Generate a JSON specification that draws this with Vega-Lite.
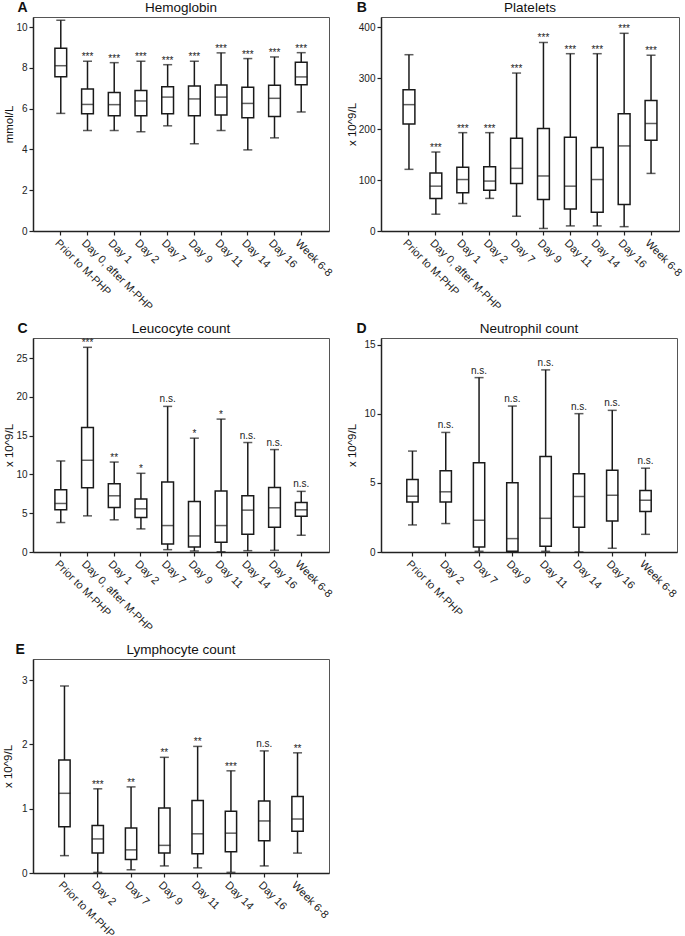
{
  "$schema": "https://vega.github.io/schema/vega-lite/v6.json",
  "padding": {"left": 1, "top": 0, "right": 0, "bottom": 0},
  "background": "white",
  "datasets": {
    "hb": [
      {"day": "Prior to M-PHP", "min": 5.77, "q1": 7.57, "med": 8.11, "q3": 8.97, "max": 10.34, "sig": ""},
      {"day": "Day 0, after M-PHP", "min": 4.93, "q1": 5.75, "med": 6.21, "q3": 6.97, "max": 8.33, "sig": "***"},
      {"day": "Day 1", "min": 4.93, "q1": 5.66, "med": 6.2, "q3": 6.79, "max": 8.26, "sig": "***"},
      {"day": "Day 2", "min": 4.87, "q1": 5.66, "med": 6.38, "q3": 6.89, "max": 8.33, "sig": "***"},
      {"day": "Day 7", "min": 5.16, "q1": 5.75, "med": 6.57, "q3": 7.08, "max": 8.16, "sig": "***"},
      {"day": "Day 9", "min": 4.28, "q1": 5.66, "med": 6.48, "q3": 7.11, "max": 8.33, "sig": "***"},
      {"day": "Day 11", "min": 4.93, "q1": 5.69, "med": 6.57, "q3": 7.16, "max": 8.74, "sig": "***"},
      {"day": "Day 14", "min": 3.98, "q1": 5.56, "med": 6.26, "q3": 7.05, "max": 8.46, "sig": "***"},
      {"day": "Day 16", "min": 4.57, "q1": 5.62, "med": 6.51, "q3": 7.15, "max": 8.54, "sig": "***"},
      {"day": "Week 6-8", "min": 5.84, "q1": 7.18, "med": 7.56, "q3": 8.28, "max": 8.75, "sig": "***"}
    ],
    "plt": [
      {"day": "Prior to M-PHP", "min": 121, "q1": 210, "med": 248, "q3": 277, "max": 346, "sig": ""},
      {"day": "Day 0, after M-PHP", "min": 33, "q1": 64, "med": 88, "q3": 114, "max": 155, "sig": "***"},
      {"day": "Day 1", "min": 54, "q1": 75, "med": 101, "q3": 125, "max": 193, "sig": "***"},
      {"day": "Day 2", "min": 64, "q1": 80, "med": 98, "q3": 126, "max": 193, "sig": "***"},
      {"day": "Day 7", "min": 29, "q1": 93, "med": 123, "q3": 182, "max": 310, "sig": "***"},
      {"day": "Day 9", "min": 5, "q1": 62, "med": 108, "q3": 201, "max": 370, "sig": "***"},
      {"day": "Day 11", "min": 10, "q1": 43, "med": 88, "q3": 184, "max": 348, "sig": "***"},
      {"day": "Day 14", "min": 10, "q1": 37, "med": 101, "q3": 164, "max": 348, "sig": "***"},
      {"day": "Day 16", "min": 8.5, "q1": 52, "med": 167, "q3": 230, "max": 388, "sig": "***"},
      {"day": "Week 6-8", "min": 113, "q1": 178, "med": 211, "q3": 256, "max": 345, "sig": "***"}
    ],
    "wbc": [
      {"day": "Prior to M-PHP", "min": 3.8, "q1": 5.44, "med": 6.26, "q3": 8.03, "max": 11.74, "sig": ""},
      {"day": "Day 0, after M-PHP", "min": 4.66, "q1": 8.29, "med": 11.83, "q3": 16.06, "max": 26.4, "sig": "***"},
      {"day": "Day 1", "min": 4.15, "q1": 5.74, "med": 7.25, "q3": 8.8, "max": 11.6, "sig": "**"},
      {"day": "Day 2", "min": 2.98, "q1": 4.45, "med": 5.57, "q3": 6.82, "max": 10.15, "sig": "*"},
      {"day": "Day 7", "min": 0.3, "q1": 1.04, "med": 3.41, "q3": 9.02, "max": 18.78, "sig": "n.s."},
      {"day": "Day 9", "min": 0.13, "q1": 0.65, "med": 2.07, "q3": 6.52, "max": 14.68, "sig": "*"},
      {"day": "Day 11", "min": 0.03, "q1": 1.25, "med": 3.41, "q3": 7.86, "max": 17.14, "sig": "*"},
      {"day": "Day 14", "min": 0.17, "q1": 2.29, "med": 5.4, "q3": 7.25, "max": 14.12, "sig": "n.s."},
      {"day": "Day 16", "min": 0.22, "q1": 3.2, "med": 5.7, "q3": 8.33, "max": 13.21, "sig": "n.s."},
      {"day": "Week 6-8", "min": 2.16, "q1": 4.62, "med": 5.44, "q3": 6.39, "max": 7.82, "sig": "n.s."}
    ],
    "neu": [
      {"day": "Prior to M-PHP", "min": 1.96, "q1": 3.63, "med": 4.04, "q3": 5.25, "max": 7.31, "sig": ""},
      {"day": "Day 2", "min": 2.06, "q1": 3.63, "med": 4.36, "q3": 5.88, "max": 8.66, "sig": "n.s."},
      {"day": "Day 7", "min": 0.05, "q1": 0.36, "med": 2.3, "q3": 6.46, "max": 12.63, "sig": "n.s."},
      {"day": "Day 9", "min": 0.0, "q1": 0.05, "med": 0.97, "q3": 5.01, "max": 10.57, "sig": "n.s."},
      {"day": "Day 11", "min": 0.05, "q1": 0.41, "med": 2.44, "q3": 6.92, "max": 13.19, "sig": "n.s."},
      {"day": "Day 14", "min": 0.0, "q1": 1.79, "med": 4.02, "q3": 5.66, "max": 10.02, "sig": "n.s."},
      {"day": "Day 16", "min": 0.27, "q1": 2.25, "med": 4.11, "q3": 5.93, "max": 10.26, "sig": "n.s."},
      {"day": "Week 6-8", "min": 1.28, "q1": 2.93, "med": 3.75, "q3": 4.45, "max": 6.07, "sig": "n.s."}
    ],
    "lym": [
      {"day": "Prior to M-PHP", "min": 0.27, "q1": 0.72, "med": 1.24, "q3": 1.76, "max": 2.91, "sig": ""},
      {"day": "Day 2", "min": 0.01, "q1": 0.31, "med": 0.53, "q3": 0.74, "max": 1.31, "sig": "***"},
      {"day": "Day 7", "min": 0.05, "q1": 0.21, "med": 0.36, "q3": 0.7, "max": 1.34, "sig": "**"},
      {"day": "Day 9", "min": 0.11, "q1": 0.31, "med": 0.43, "q3": 1.01, "max": 1.8, "sig": "**"},
      {"day": "Day 11", "min": 0.08, "q1": 0.3, "med": 0.61, "q3": 1.13, "max": 1.97, "sig": "**"},
      {"day": "Day 14", "min": 0.01, "q1": 0.33, "med": 0.62, "q3": 0.96, "max": 1.59, "sig": "***"},
      {"day": "Day 16", "min": 0.11, "q1": 0.5, "med": 0.81, "q3": 1.12, "max": 1.9, "sig": "n.s."},
      {"day": "Week 6-8", "min": 0.31, "q1": 0.65, "med": 0.84, "q3": 1.19, "max": 1.87, "sig": "**"}
    ]
  },
  "vconcat": [
    {
      "hconcat": [
        {
          "title": {"text": "A", "anchor": "start", "frame": "bounds", "fontWeight": "bold", "fontSize": 14, "offset": -15, "dx": 14},
          "vconcat": [
            {
              "width": 296, "height": 214,
              "title": {"text": "Hemoglobin"},
              "data": {"name": "hb"},
              "encoding": {"x": {"field": "day", "type": "nominal", "sort": null, "title": null, "scale": {"paddingInner": 0.56, "paddingOuter": 0.82}}},
              "layer": [
                {"mark": {"type": "rule", "color": "#1a1a1a", "strokeWidth": 1.5}, "encoding": {"y": {"field": "min", "type": "quantitative", "title": "mmol/L", "scale": {"domain": [0, 10.5], "nice": false, "zero": true}, "axis": {"values": [0, 2, 4, 6, 8, 10], "format": "d"}}, "y2": {"field": "max"}}},
                {"mark": {"type": "tick", "color": "#1a1a1a", "thickness": 1.5, "size": 9}, "encoding": {"y": {"field": "min", "type": "quantitative", "title": "mmol/L"}}},
                {"mark": {"type": "tick", "color": "#1a1a1a", "thickness": 1.5, "size": 9}, "encoding": {"y": {"field": "max", "type": "quantitative", "title": "mmol/L"}}},
                {"mark": {"type": "bar", "fill": "white", "stroke": "#1a1a1a", "strokeWidth": 1.5}, "encoding": {"y": {"field": "q1", "type": "quantitative", "title": "mmol/L"}, "y2": {"field": "q3"}}},
                {"mark": {"type": "tick", "color": "#1a1a1a", "thickness": 1.5, "size": 12}, "encoding": {"y": {"field": "med", "type": "quantitative", "title": "mmol/L"}}},
                {"transform": [{"filter": "datum.sig != '' && datum.sig != 'n.s.'"}], "mark": {"type": "text", "baseline": "alphabetic", "dy": -1, "fontSize": 10, "color": "#222"}, "encoding": {"y": {"field": "max", "type": "quantitative", "title": "mmol/L"}, "text": {"field": "sig"}}},
                {"transform": [{"filter": "datum.sig == 'n.s.'"}], "mark": {"type": "text", "baseline": "alphabetic", "dy": -4, "fontSize": 10, "color": "#222"}, "encoding": {"y": {"field": "max", "type": "quantitative", "title": "mmol/L"}, "text": {"field": "sig"}}}
              ]
            }
          ]
        },
        {
          "title": {"text": "B", "anchor": "start", "frame": "bounds", "fontWeight": "bold", "fontSize": 14, "offset": -15, "dx": 11},
          "vconcat": [
            {
              "width": 298, "height": 214,
              "title": {"text": "Platelets"},
              "data": {"name": "plt"},
              "encoding": {"x": {"field": "day", "type": "nominal", "sort": null, "title": null, "scale": {"paddingInner": 0.56, "paddingOuter": 0.82}}},
              "layer": [
                {"mark": {"type": "rule", "color": "#1a1a1a", "strokeWidth": 1.5}, "encoding": {"y": {"field": "min", "type": "quantitative", "title": "x 10^9/L", "scale": {"domain": [0, 420], "nice": false, "zero": true}, "axis": {"values": [0, 100, 200, 300, 400], "format": "d"}}, "y2": {"field": "max"}}},
                {"mark": {"type": "tick", "color": "#1a1a1a", "thickness": 1.5, "size": 9}, "encoding": {"y": {"field": "min", "type": "quantitative", "title": "x 10^9/L"}}},
                {"mark": {"type": "tick", "color": "#1a1a1a", "thickness": 1.5, "size": 9}, "encoding": {"y": {"field": "max", "type": "quantitative", "title": "x 10^9/L"}}},
                {"mark": {"type": "bar", "fill": "white", "stroke": "#1a1a1a", "strokeWidth": 1.5}, "encoding": {"y": {"field": "q1", "type": "quantitative", "title": "x 10^9/L"}, "y2": {"field": "q3"}}},
                {"mark": {"type": "tick", "color": "#1a1a1a", "thickness": 1.5, "size": 12}, "encoding": {"y": {"field": "med", "type": "quantitative", "title": "x 10^9/L"}}},
                {"transform": [{"filter": "datum.sig != '' && datum.sig != 'n.s.'"}], "mark": {"type": "text", "baseline": "alphabetic", "dy": -1, "fontSize": 10, "color": "#222"}, "encoding": {"y": {"field": "max", "type": "quantitative", "title": "x 10^9/L"}, "text": {"field": "sig"}}},
                {"transform": [{"filter": "datum.sig == 'n.s.'"}], "mark": {"type": "text", "baseline": "alphabetic", "dy": -4, "fontSize": 10, "color": "#222"}, "encoding": {"y": {"field": "max", "type": "quantitative", "title": "x 10^9/L"}, "text": {"field": "sig"}}}
              ]
            }
          ]
        }
      ]
    },
    {
      "hconcat": [
        {
          "title": {"text": "C", "anchor": "start", "frame": "bounds", "fontWeight": "bold", "fontSize": 14, "offset": -15, "dx": 14},
          "vconcat": [
            {
              "width": 296, "height": 214,
              "title": {"text": "Leucocyte count"},
              "data": {"name": "wbc"},
              "encoding": {"x": {"field": "day", "type": "nominal", "sort": null, "title": null, "scale": {"paddingInner": 0.56, "paddingOuter": 0.82}}},
              "layer": [
                {"mark": {"type": "rule", "color": "#1a1a1a", "strokeWidth": 1.5}, "encoding": {"y": {"field": "min", "type": "quantitative", "title": "x 10^9/L", "scale": {"domain": [0, 27.6], "nice": false, "zero": true}, "axis": {"values": [0, 5, 10, 15, 20, 25], "format": "d"}}, "y2": {"field": "max"}}},
                {"mark": {"type": "tick", "color": "#1a1a1a", "thickness": 1.5, "size": 9}, "encoding": {"y": {"field": "min", "type": "quantitative", "title": "x 10^9/L"}}},
                {"mark": {"type": "tick", "color": "#1a1a1a", "thickness": 1.5, "size": 9}, "encoding": {"y": {"field": "max", "type": "quantitative", "title": "x 10^9/L"}}},
                {"mark": {"type": "bar", "fill": "white", "stroke": "#1a1a1a", "strokeWidth": 1.5}, "encoding": {"y": {"field": "q1", "type": "quantitative", "title": "x 10^9/L"}, "y2": {"field": "q3"}}},
                {"mark": {"type": "tick", "color": "#1a1a1a", "thickness": 1.5, "size": 12}, "encoding": {"y": {"field": "med", "type": "quantitative", "title": "x 10^9/L"}}},
                {"transform": [{"filter": "datum.sig != '' && datum.sig != 'n.s.'"}], "mark": {"type": "text", "baseline": "alphabetic", "dy": -1, "fontSize": 10, "color": "#222"}, "encoding": {"y": {"field": "max", "type": "quantitative", "title": "x 10^9/L"}, "text": {"field": "sig"}}},
                {"transform": [{"filter": "datum.sig == 'n.s.'"}], "mark": {"type": "text", "baseline": "alphabetic", "dy": -4, "fontSize": 10, "color": "#222"}, "encoding": {"y": {"field": "max", "type": "quantitative", "title": "x 10^9/L"}, "text": {"field": "sig"}}}
              ]
            }
          ]
        },
        {
          "title": {"text": "D", "anchor": "start", "frame": "bounds", "fontWeight": "bold", "fontSize": 14, "offset": -15, "dx": 11},
          "vconcat": [
            {
              "width": 296, "height": 214,
              "title": {"text": "Neutrophil count"},
              "data": {"name": "neu"},
              "encoding": {"x": {"field": "day", "type": "nominal", "sort": null, "title": null, "scale": {"paddingInner": 0.66, "paddingOuter": 0.775}}},
              "layer": [
                {"mark": {"type": "rule", "color": "#1a1a1a", "strokeWidth": 1.5}, "encoding": {"y": {"field": "min", "type": "quantitative", "title": "x 10^9/L", "scale": {"domain": [0, 15.5], "nice": false, "zero": true}, "axis": {"values": [0, 5, 10, 15], "format": "d", "minExtent": 23}}, "y2": {"field": "max"}}},
                {"mark": {"type": "tick", "color": "#1a1a1a", "thickness": 1.5, "size": 9}, "encoding": {"y": {"field": "min", "type": "quantitative", "title": "x 10^9/L"}}},
                {"mark": {"type": "tick", "color": "#1a1a1a", "thickness": 1.5, "size": 9}, "encoding": {"y": {"field": "max", "type": "quantitative", "title": "x 10^9/L"}}},
                {"mark": {"type": "bar", "fill": "white", "stroke": "#1a1a1a", "strokeWidth": 1.5}, "encoding": {"y": {"field": "q1", "type": "quantitative", "title": "x 10^9/L"}, "y2": {"field": "q3"}}},
                {"mark": {"type": "tick", "color": "#1a1a1a", "thickness": 1.5, "size": 12}, "encoding": {"y": {"field": "med", "type": "quantitative", "title": "x 10^9/L"}}},
                {"transform": [{"filter": "datum.sig != '' && datum.sig != 'n.s.'"}], "mark": {"type": "text", "baseline": "alphabetic", "dy": -1, "fontSize": 10, "color": "#222"}, "encoding": {"y": {"field": "max", "type": "quantitative", "title": "x 10^9/L"}, "text": {"field": "sig"}}},
                {"transform": [{"filter": "datum.sig == 'n.s.'"}], "mark": {"type": "text", "baseline": "alphabetic", "dy": -4, "fontSize": 10, "color": "#222"}, "encoding": {"y": {"field": "max", "type": "quantitative", "title": "x 10^9/L"}, "text": {"field": "sig"}}}
              ]
            }
          ]
        }
      ]
    },
    {
      "title": {"text": "E", "anchor": "start", "frame": "bounds", "fontWeight": "bold", "fontSize": 14, "offset": -15, "dx": 14},
      "vconcat": [
        {
          "width": 296, "height": 214,
          "title": {"text": "Lymphocyte count"},
          "data": {"name": "lym"},
          "encoding": {"x": {"field": "day", "type": "nominal", "sort": null, "title": null, "scale": {"paddingInner": 0.66, "paddingOuter": 0.775}}},
          "layer": [
            {"mark": {"type": "rule", "color": "#1a1a1a", "strokeWidth": 1.5}, "encoding": {"y": {"field": "min", "type": "quantitative", "title": "x 10^9/L", "scale": {"domain": [0, 3.33], "nice": false, "zero": true}, "axis": {"values": [0, 1, 2, 3], "format": "d", "minExtent": 19}}, "y2": {"field": "max"}}},
            {"mark": {"type": "tick", "color": "#1a1a1a", "thickness": 1.5, "size": 9}, "encoding": {"y": {"field": "min", "type": "quantitative", "title": "x 10^9/L"}}},
            {"mark": {"type": "tick", "color": "#1a1a1a", "thickness": 1.5, "size": 9}, "encoding": {"y": {"field": "max", "type": "quantitative", "title": "x 10^9/L"}}},
            {"mark": {"type": "bar", "fill": "white", "stroke": "#1a1a1a", "strokeWidth": 1.5}, "encoding": {"y": {"field": "q1", "type": "quantitative", "title": "x 10^9/L"}, "y2": {"field": "q3"}}},
            {"mark": {"type": "tick", "color": "#1a1a1a", "thickness": 1.5, "size": 12}, "encoding": {"y": {"field": "med", "type": "quantitative", "title": "x 10^9/L"}}},
            {"transform": [{"filter": "datum.sig != '' && datum.sig != 'n.s.'"}], "mark": {"type": "text", "baseline": "alphabetic", "dy": -1, "fontSize": 10, "color": "#222"}, "encoding": {"y": {"field": "max", "type": "quantitative", "title": "x 10^9/L"}, "text": {"field": "sig"}}},
            {"transform": [{"filter": "datum.sig == 'n.s.'"}], "mark": {"type": "text", "baseline": "alphabetic", "dy": -4, "fontSize": 10, "color": "#222"}, "encoding": {"y": {"field": "max", "type": "quantitative", "title": "x 10^9/L"}, "text": {"field": "sig"}}}
          ]
        }
      ]
    }
  ],
  "spacing": 8,
  "config": {
    "font": "Liberation Sans",
    "concat": {"spacing": 10},
    "view": {"stroke": "#555", "strokeWidth": 1},
    "axis": {"grid": false, "domainColor": "#222", "domainWidth": 1.5, "tickColor": "#222", "tickWidth": 1.2, "tickSize": 4, "labelColor": "#222", "titleColor": "#111", "labelFontSize": 10, "titleFontSize": 11.5, "titleFontWeight": "normal", "labelPadding": 2, "minExtent": 0},
    "axisX": {"labelAngle": 45, "labelAlign": "left", "labelBaseline": "top", "labelFontSize": 11, "labelPadding": 2, "tickSize": 4},
    "axisY": {"titlePadding": 1, "minExtent": 0},
    "title": {"fontSize": 13.5, "fontWeight": "normal", "color": "#111", "offset": 3}
  }
}
